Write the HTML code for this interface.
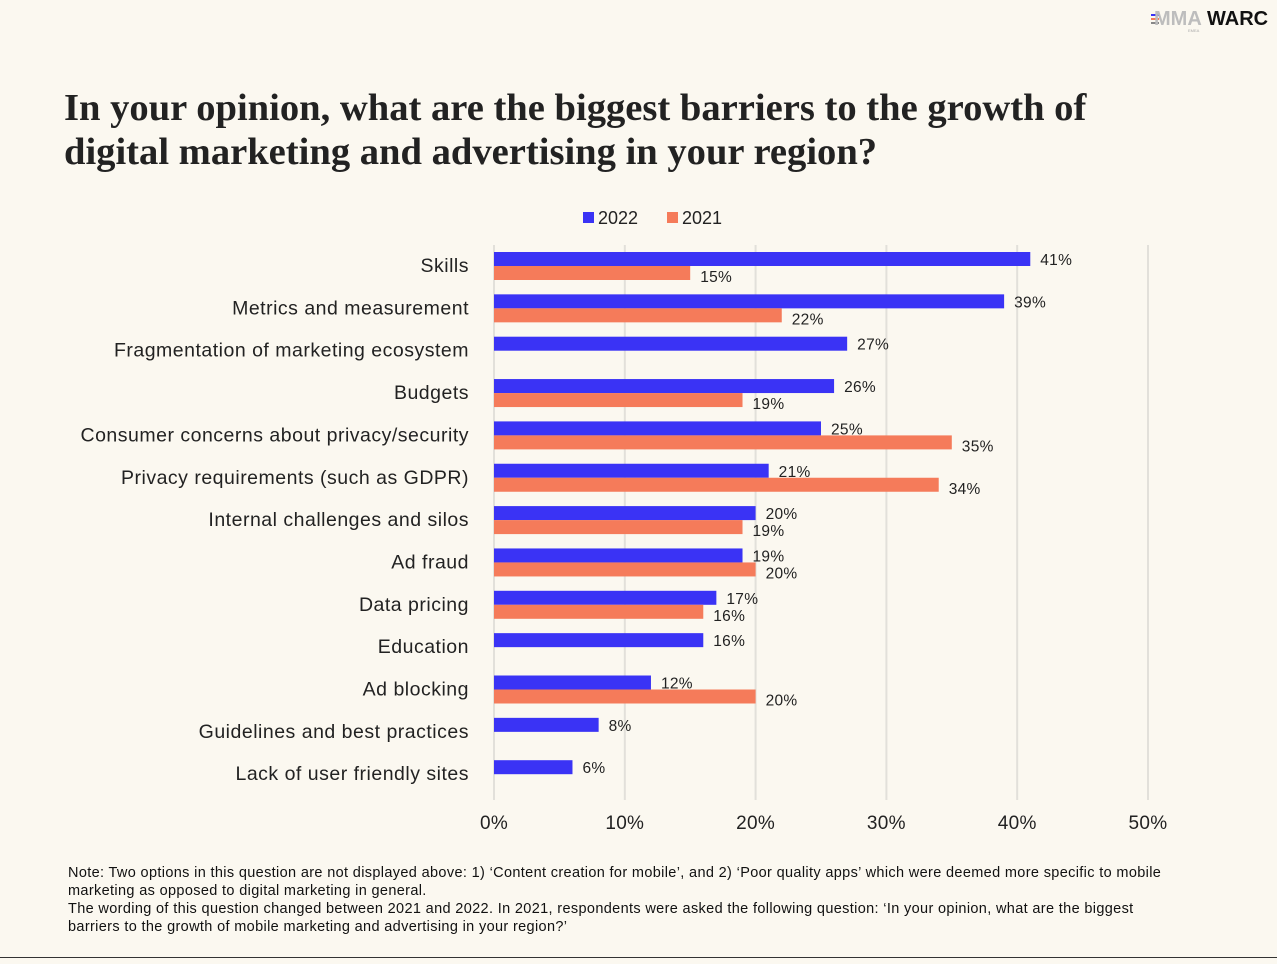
<!DOCTYPE html>
<html><head><meta charset="utf-8"><style>
body{margin:0;background:#fbf8f0;width:1277px;height:959px;overflow:hidden;font-family:"Liberation Sans",sans-serif;}
</style></head><body>
<svg width="1277" height="959" viewBox="0 0 1277 959">
<rect width="1277" height="959" fill="#fbf8f0"/>
<g>
<rect x="1151" y="14" width="8" height="2" fill="#3a33f5"/><rect x="1151" y="18" width="8" height="2" fill="#f57b5a"/><rect x="1151" y="22" width="8" height="2" fill="#888"/>
<text x="1154" y="25" font-size="20" font-weight="bold" fill="#bdbdbd" font-family="Liberation Sans">MMA</text>
<text x="1207" y="25" font-size="20" font-weight="bold" fill="#111">WARC</text>
<text x="1188" y="32" font-size="4" fill="#aaa">EMEA</text>
</g>
<text font-family="Liberation Serif,serif" font-size="38.6" font-weight="bold" fill="#222"><tspan x="64" y="120">In your opinion, what are the biggest barriers to the growth of</tspan><tspan x="64" y="164">digital marketing and advertising in your region?</tspan></text>
<g font-size="18" fill="#222">
<g><rect x="583" y="212" width="11" height="11" fill="#3a33f5"/><text x="598" y="224">2022</text></g>
<g><rect x="667" y="212" width="11" height="11" fill="#f57b5a"/><text x="682" y="224">2021</text></g>
</g>
<g id="grid"></g><g id="bars"></g><g id="labels"></g>
<g font-size="14.5" letter-spacing="0.35" fill="#111">
<text x="68" y="877">Note: Two options in this question are not displayed above: 1) ‘Content creation for mobile’, and 2) ‘Poor quality apps’ which were deemed more specific to mobile</text>
<text x="68" y="895">marketing as opposed to digital marketing in general.</text>
<text x="68" y="913">The wording of this question changed between 2021 and 2022. In 2021, respondents were asked the following question: ‘In your opinion, what are the biggest</text>
<text x="68" y="931">barriers to the growth of mobile marketing and advertising in your region?’</text>
</g>
<line x1="0" y1="957.5" x2="1277" y2="957.5" stroke="#333" stroke-width="1"/>
</svg>
<script>
const categories=["Skills","Metrics and measurement","Fragmentation of marketing ecosystem","Budgets","Consumer concerns about privacy/security","Privacy requirements (such as GDPR)","Internal challenges and silos","Ad fraud","Data pricing","Education","Ad blocking","Guidelines and best practices","Lack of user friendly sites"];
const values2022=[41,39,27,26,25,21,20,19,17,16,12,8,6];
const values2021=[15,22,null,19,35,34,19,20,16,null,20,null,null];
const ticks=[0,10,20,30,40,50];
const NS="http://www.w3.org/2000/svg";
const x=v=>494+v*13.08;
const rowY=i=>265+i*42.35;
function mk(t,a,p){const e=document.createElementNS(NS,t);for(const k in a)e.setAttribute(k,a[k]);p.appendChild(e);return e;}
const grid=document.getElementById('grid'),bars=document.getElementById('bars'),labels=document.getElementById('labels');
ticks.forEach(t=>{
 const l=mk('line',{x1:x(t),x2:x(t),y1:245,y2:800,stroke:'#e2e0da','stroke-width':2},grid);
 
 
 const tx=mk('text',{x:x(t),y:829,'text-anchor':'middle','font-size':19,'letter-spacing':0.3,fill:'#222'},grid);
 tx.textContent=t+'%';
 
 
});
categories.forEach((c,i)=>{
 const cy=rowY(i);
 const tl=mk('text',{x:469,y:cy+7,'text-anchor':'end','font-size':19.5,'letter-spacing':0.5,fill:'#222'},labels);
 tl.textContent=c;
 
 
 const v=values2022[i];
 const b=mk('rect',{x:x(0),y:cy-13,width:x(v)-x(0),height:14,fill:'#3a33f5'},bars);
 
 
 const vl=mk('text',{x:x(v)+10,y:cy,'font-size':15.5,'letter-spacing':0.3,fill:'#222'},labels);
 vl.textContent=v+'%';
 
 
 const w=values2021[i];
 if(w!=null){
  const b2=mk('rect',{x:x(0),y:cy+1,width:x(w)-x(0),height:14,fill:'#f57b5a'},bars);
  
  
  const vl2=mk('text',{x:x(w)+10,y:cy+17,'font-size':15.5,'letter-spacing':0.3,fill:'#222'},labels);
  vl2.textContent=w+'%';
  
  
 }
});
</script>
</body></html>
